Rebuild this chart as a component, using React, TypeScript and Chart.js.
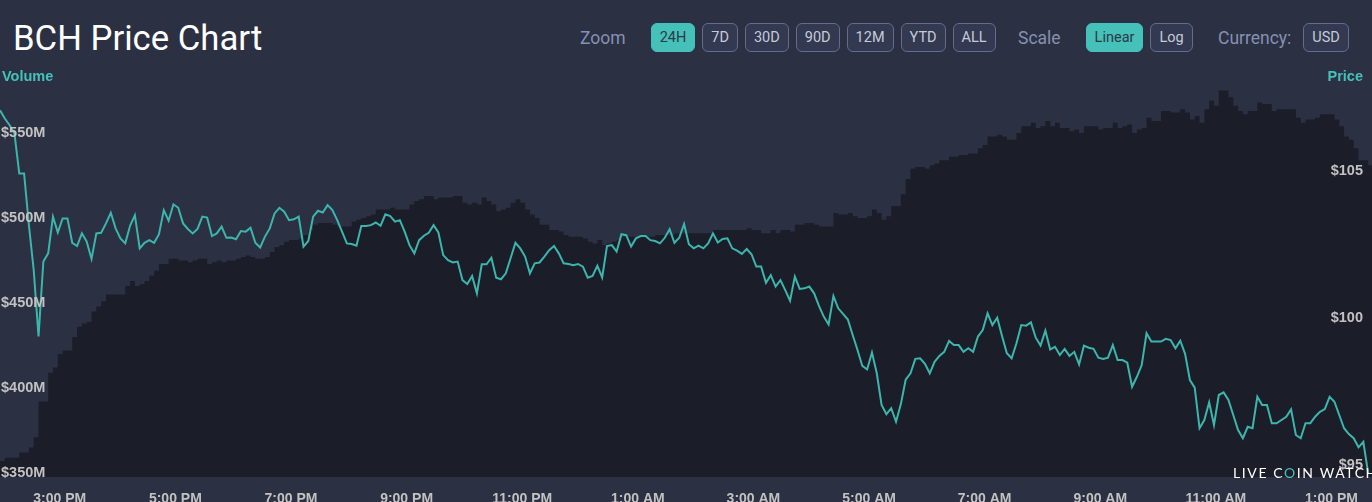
import React, { useEffect, useRef } from "react";
import { Chart, registerables } from "chart.js";

Chart.register(...registerables);

// ---- time axis (minutes counted from midnight of the first day) ----
const startMinute = 838; // first sample, 1:58 PM
const stepMinutes = 5;
const axisStartMinute = 838;
const axisEndMinute = 2262;

const xTickMinutes = [900, 1020, 1140, 1260, 1380, 1500, 1620, 1740, 1860, 1980, 2100, 2220];
const xTickLabels = [
  "3:00 PM", "5:00 PM", "7:00 PM", "9:00 PM", "11:00 PM", "1:00 AM",
  "3:00 AM", "5:00 AM", "7:00 AM", "9:00 AM", "11:00 AM", "1:00 PM",
];

// ---- value axes ----
const volumeTicks = [350, 400, 450, 500, 550];
const priceTicks = [95, 100, 105];
const volumeAxisMin = 347.65;
const volumeAxisMax = 592.94;
const priceAxisMin = 94.59;
const priceAxisMax = 108.78;

// ---- BCH price (USD), one value every 5 minutes ----
const priceUsd = [
  107.07, 106.79, 106.56, 106.28, 104.92, 104.92, 103.16, 101.63, 99.37, 101.92,
  102.2, 103.45, 102.91, 103.39, 103.39, 102.56, 102.45, 102.88, 102.6, 102.01,
  102.88, 102.9, 103.22, 103.58, 103.05, 102.71, 102.54, 103.14, 103.5, 102.37,
  102.56, 102.65, 102.56, 102.85, 103.67, 103.31, 103.87, 103.75, 103.22, 103.03,
  102.88, 103.03, 103.45, 103.42, 102.79, 102.88, 103.11, 102.73, 102.74, 102.68,
  102.96, 102.94, 103.07, 102.56, 102.4, 102.77, 103.05, 103.56, 103.75, 103.62,
  103.33, 103.36, 103.45, 102.43, 102.62, 103.45, 103.65, 103.59, 103.84, 103.67,
  103.33, 102.94, 102.54, 102.52, 102.46, 103.13, 103.13, 103.16, 103.25, 103.14,
  103.53, 103.47, 103.28, 103.33, 102.94, 102.48, 102.2, 102.65, 102.8, 102.9,
  103.16, 102.91, 102.14, 101.97, 101.89, 101.92, 101.29, 101.16, 101.43, 100.84,
  101.83, 101.83, 102.05, 101.37, 101.32, 101.52, 102.04, 102.56, 102.37, 102.09,
  101.52, 101.86, 101.89, 102.09, 102.31, 102.45, 102.2, 101.86, 101.84, 101.8,
  101.84, 101.75, 101.37, 101.43, 101.78, 101.38, 102.45, 102.48, 102.26, 102.85,
  102.82, 102.43, 102.71, 102.79, 102.79, 102.65, 102.62, 102.54, 102.73, 103.02,
  102.56, 102.73, 103.2, 102.51, 102.37, 102.46, 102.37, 102.54, 102.88, 102.57,
  102.69, 102.71, 102.37, 102.29, 102.18, 102.35, 102.17, 101.75, 101.75, 101.2,
  101.46, 101.07, 101.29, 100.95, 100.59, 101.41, 100.99, 101.01, 101.07, 100.84,
  100.41, 100.05, 99.78, 100.75, 100.33, 100.14, 99.95, 99.42, 98.91, 98.37,
  98.25, 98.83, 98.12, 97.04, 96.73, 96.93, 96.47, 97.07, 97.9, 98.12,
  98.61, 98.63, 98.44, 98.12, 98.51, 98.71, 98.85, 99.22, 99.08, 99.08,
  98.85, 98.97, 98.85, 99.37, 99.59, 100.16, 99.76, 100.01, 99.39, 98.8,
  98.63, 99.14, 99.76, 99.74, 99.85, 99.33, 99.06, 99.57, 98.93, 99.02,
  98.74, 98.95, 98.71, 98.85, 98.42, 99.06, 98.99, 98.95, 98.65, 98.61,
  98.65, 99.08, 98.57, 98.57, 98.48, 97.66, 98.0, 98.4, 99.48, 99.2,
  99.2, 99.2, 99.29, 99.25, 98.97, 99.23, 98.78, 97.89, 97.63, 96.25,
  96.53, 97.13, 96.36, 97.38, 97.47, 97.21, 96.7, 96.19, 95.91, 96.3,
  96.25, 97.32, 97.04, 97.04, 96.42, 96.42, 96.53, 96.64, 96.89, 96.02,
  95.91, 96.42, 96.42, 96.64, 96.81, 96.9, 97.32, 97.15, 96.7, 96.25,
  96.05, 95.91, 95.6, 95.79, 94.72,
];

// ---- 24h volume (million USD), one value every 5 minutes ----
const volumeUsdM = [
  357, 359, 359, 359, 362, 362, 365, 371, 392, 392,
  409, 412, 420, 422, 422, 430, 436, 438, 439, 445,
  448, 451, 455, 455, 455, 455, 460, 463, 460, 461,
  463, 466, 469, 473, 473, 476, 476, 475, 475, 474,
  475, 476, 476, 473, 474, 475, 474, 475, 475, 476,
  477, 478, 477, 476, 476, 477, 480, 483, 484, 486,
  487, 487, 488, 490, 493, 496, 497, 497, 497, 496,
  495, 495, 495, 498, 499, 500, 501, 502, 505, 505,
  505, 506, 505, 505, 505, 508, 510, 511, 513, 513,
  511, 512, 512, 512, 513, 513, 509, 508, 509, 508,
  512, 510, 508, 504, 505, 506, 509, 511, 509, 505,
  502, 500, 496, 496, 493, 493, 492, 490, 489, 489,
  489, 488, 486, 485, 487, 484, 485, 486, 487, 489,
  489, 489, 489, 489, 489, 489, 490, 490, 490, 490,
  491, 491, 491, 491, 491, 491, 491, 491, 493, 493,
  493, 493, 493, 493, 493, 494, 493, 493, 491, 491,
  493, 491, 493, 493, 492, 496, 496, 497, 497, 496,
  495, 495, 495, 503, 502, 502, 503, 501, 500, 500,
  501, 505, 503, 499, 501, 507, 507, 514, 523, 529,
  530, 530, 529, 531, 532, 534, 534, 536, 536, 537,
  537, 538, 538, 541, 543, 548, 548, 549, 548, 546,
  546, 550, 554, 554, 556, 553, 554, 557, 554, 556,
  553, 553, 551, 552, 550, 554, 554, 554, 552, 553,
  553, 556, 553, 554, 555, 550, 552, 553, 559, 557,
  557, 563, 563, 562, 562, 564, 562, 558, 560, 556,
  564, 569, 566, 575, 575, 571, 566, 563, 561, 563,
  563, 568, 567, 567, 563, 564, 564, 564, 564, 559,
  556, 558, 558, 559, 561, 561, 561, 558, 554, 548,
  546, 541, 534, 534, 531, 531,
];

const zoomOptions = ["24H", "7D", "30D", "90D", "12M", "YTD", "ALL"];
const scaleOptions = ["Linear", "Log"];
const currencyOptions = ["USD"];

const BG = "#2b3042";
const VOLUME_FILL = "#1b1d29";
const TEAL = "#45c1ba";
const LINE_TEAL = "#3cb6ad";
const TICK_GREY = "#c2c2c2";
const LABEL_BLUE = "#8690b2";

function Button({ text, active }: { text: string; active: boolean }) {
  return (
    <div
      style={{
        boxSizing: "border-box",
        height: 29,
        padding: "0 8px",
        borderRadius: 6,
        border: active ? `1px solid ${TEAL}` : "1px solid #646c89",
        background: active ? TEAL : "#323950",
        color: active ? "#2d3848" : "#c6cbd9",
        fontSize: 14.5,
        display: "flex",
        alignItems: "center",
        justifyContent: "center",
        whiteSpace: "nowrap",
      }}
    >
      {text}
    </div>
  );
}

export default function App() {
  const canvasRef = useRef<HTMLCanvasElement | null>(null);

  useEffect(() => {
    document.body.style.margin = "0";
    document.body.style.background = BG;
    const canvas = canvasRef.current;
    if (!canvas) return;

    const priceData = priceUsd.map((p, i) => ({ x: startMinute + i * stepMinutes, y: p }));
    const volumeData = volumeUsdM.map((v, i) => ({ x: startMinute + i * stepMinutes, y: v }));

    const tickFontY = { family: "Liberation Sans", size: 14.5, weight: "bold" as const };
    const tickFontX = { family: "Liberation Sans", size: 14, weight: "bold" as const };

    const chart = new Chart(canvas, {
      type: "line",
      data: {
        datasets: [
          {
            label: "Price",
            data: priceData,
            yAxisID: "price",
            borderColor: LINE_TEAL,
            borderWidth: 2,
            pointRadius: 0,
            tension: 0,
            fill: false,
          },
          {
            label: "Volume",
            data: volumeData,
            yAxisID: "volume",
            stepped: true,
            borderWidth: 0,
            borderColor: "rgba(0,0,0,0)",
            backgroundColor: VOLUME_FILL,
            pointRadius: 0,
            fill: "start",
          },
        ],
      },
      options: {
        animation: false,
        responsive: false,
        events: [],
        layout: { padding: 0 },
        plugins: {
          legend: { display: false },
          tooltip: { enabled: false },
          title: { display: false },
        },
        scales: {
          x: {
            type: "linear",
            min: axisStartMinute,
            max: axisEndMinute,
            grid: { display: false },
            border: { display: false },
            ticks: {
              color: TICK_GREY,
              font: tickFontX,
              padding: 6,
              maxRotation: 0,
              autoSkip: false,
              callback: (v: any) => {
                const k = xTickMinutes.indexOf(Number(v));
                return k >= 0 ? xTickLabels[k] : "";
              },
            },
            afterBuildTicks: (axis: any) => {
              axis.ticks = xTickMinutes.map((v) => ({ value: v }));
            },
            afterFit: (s: any) => {
              s.height = 25;
              s.paddingLeft = 0;
              s.paddingRight = 0;
            },
          },
          volume: {
            type: "linear",
            position: "left",
            min: volumeAxisMin,
            max: volumeAxisMax,
            bounds: "data",
            grid: { display: false },
            border: { display: false },
            ticks: {
              z: 2,
              mirror: true,
              padding: 1,
              autoSkip: false,
              color: TICK_GREY,
              font: tickFontY,
              callback: (v: any) => "$" + v + "M",
            },
            afterBuildTicks: (axis: any) => {
              axis.ticks = volumeTicks.map((v) => ({ value: v }));
            },
            afterFit: (s: any) => {
              s.width = 0;
              s.paddingTop = 0;
              s.paddingBottom = 0;
            },
          },
          price: {
            type: "linear",
            position: "right",
            min: priceAxisMin,
            max: priceAxisMax,
            bounds: "data",
            grid: { display: false },
            border: { display: false },
            ticks: {
              z: 2,
              mirror: true,
              padding: -9,
              autoSkip: false,
              color: TICK_GREY,
              font: tickFontY,
              callback: (v: any) => "$" + v,
            },
            afterBuildTicks: (axis: any) => {
              axis.ticks = priceTicks.map((v) => ({ value: v }));
            },
            afterFit: (s: any) => {
              s.width = 0;
              s.paddingTop = 0;
              s.paddingBottom = 0;
            },
          },
        },
      },
    } as any);

    return () => chart.destroy();
  }, []);

  const labelStyle: React.CSSProperties = {
    color: LABEL_BLUE,
    fontSize: 17.5,
    whiteSpace: "nowrap",
  };

  return (
    <div
      style={{
        position: "absolute",
        left: 0,
        top: 0,
        width: 1372,
        height: 502,
        background: BG,
        overflow: "hidden",
        fontFamily: "Roboto, 'Noto Sans', sans-serif",
      }}
    >
      <div style={{ position: "absolute", left: 0, top: 60, width: 1372, height: 442 }}>
        <canvas ref={canvasRef} width={1372} height={442} style={{ width: 1372, height: 442, display: "block" }} />
      </div>

      <div
        style={{
          position: "absolute",
          left: 13,
          top: 21,
          fontSize: 34.7,
          lineHeight: "34px",
          color: "#ffffff",
          whiteSpace: "nowrap",
        }}
      >
        BCH Price Chart
      </div>

      <div style={{ position: "absolute", left: 580, top: 23, height: 29, display: "flex", alignItems: "center" }}>
        <span style={labelStyle}>Zoom</span>
        <div style={{ display: "flex", gap: 7, marginLeft: 25 }}>
          {zoomOptions.map((z, i) => (
            <Button key={z} text={z} active={i === 0} />
          ))}
        </div>
      </div>

      <div style={{ position: "absolute", left: 1018, top: 23, height: 29, display: "flex", alignItems: "center" }}>
        <span style={labelStyle}>Scale</span>
        <div style={{ display: "flex", gap: 7, marginLeft: 25 }}>
          {scaleOptions.map((z, i) => (
            <Button key={z} text={z} active={i === 0} />
          ))}
        </div>
      </div>

      <div style={{ position: "absolute", left: 1218, top: 23, height: 29, display: "flex", alignItems: "center" }}>
        <span style={labelStyle}>Currency:</span>
        <div style={{ display: "flex", gap: 7, marginLeft: 12 }}>
          {currencyOptions.map((z) => (
            <Button key={z} text={z} active={false} />
          ))}
        </div>
      </div>

      <div
        style={{
          position: "absolute",
          left: 2,
          top: 69,
          fontFamily: "'Liberation Sans', Arial, sans-serif",
          fontWeight: "bold",
          fontSize: 14.5,
          lineHeight: "14.5px",
          color: TEAL,
        }}
      >
        Volume
      </div>
      <div
        style={{
          position: "absolute",
          right: 9,
          top: 69,
          fontFamily: "'Liberation Sans', Arial, sans-serif",
          fontWeight: "bold",
          fontSize: 14.5,
          lineHeight: "14.5px",
          color: TEAL,
        }}
      >
        Price
      </div>

      <div
        style={{
          position: "absolute",
          left: 1233,
          top: 466,
          fontFamily: "Lato, 'Open Sans', sans-serif",
          fontSize: 14,
          lineHeight: "14px",
          letterSpacing: 1.6,
          color: "#ffffff",
          whiteSpace: "nowrap",
        }}
      >
        LIVE C<span style={{ color: TEAL }}>O</span>IN WATCH
      </div>
    </div>
  );
}
